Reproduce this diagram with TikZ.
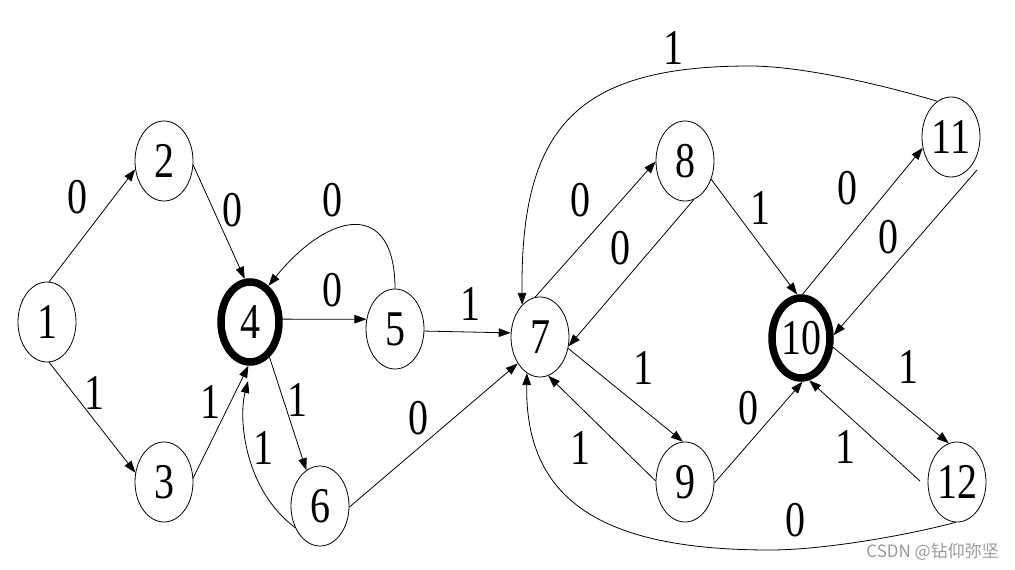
\documentclass[tikz,border=0pt]{standalone}
\usepackage{fontspec}
\usepackage{graphicx}
\usetikzlibrary{shapes.geometric,arrows.meta}
\setmainfont{Liberation Serif}
\newfontfamily\cjk{Noto Sans CJK SC}
\newcommand\dg[1]{\scalebox{0.8}[1]{#1}}
\begin{document}
\begin{tikzpicture}[x=1pt,y=-1pt,
  st/.style={ellipse,draw,line width=0.8pt,minimum width=58pt,minimum height=80pt,inner sep=0pt,font=\rmfamily\fontsize{50}{50}\selectfont},
  acc/.style={st,line width=7.5pt},
  lb/.style={inner sep=0pt,font=\rmfamily\fontsize{50}{50}\selectfont},
  ar/.style={line width=0.8pt,-{Triangle[length=12pt,width=8.5pt]}}]
\useasboundingbox (0,0) rectangle (1015,570);
% states
\node[st]  (n1)  at (47,322)  {\dg{1}};
\node[st]  (n2)  at (164,161) {\dg{2}};
\node[st]  (n3)  at (164,482) {\dg{3}};
\node[acc] (n4)  at (250,322) {\dg{4}};
\node[st]  (n5)  at (395,329) {\dg{5}};
\node[st]  (n6)  at (320,506) {\dg{6}};
\node[st]  (n7)  at (540,337) {\dg{7}};
\node[st]  (n8)  at (685,161) {\dg{8}};
\node[st]  (n9)  at (685,482) {\dg{9}};
\node[acc] (n10) at (801,338) {\dg{10}};
\node[st]  (n11) at (951,137) {\dg{11}};
\node[st]  (n12) at (957,482) {\dg{12}};
\coordinate (c4b) at (248,381);
\coordinate (c11) at (977,170);
\coordinate (c12) at (920,481);
% transitions
\draw[ar] (n1.87) -- (n2.196);
\draw[ar] (n1.273) -- (n3.162);
\draw[ar] (n2.352) -- (n4.97);
\draw[ar] (n3.8) -- (n4.268);
\draw[ar] (n4.5) -- (n5.161);
\draw[ar] (n5.90) .. controls (395,200) and (330,210) .. (n4.63);
\draw[ar] (n4.299) -- (n6.111);
\draw[ar] (n6.221) .. controls (245,490) and (238,420) .. (c4b);
\draw[ar] (n5.356) -- (n7.172);
\draw[ar] (n6.358) -- (n7.230);
\draw[ar] (n7.97) -- (n8.181);
\draw[ar] (n8.283) -- (n7.342);
\draw[ar] (n8.325) -- (n10.95);
\draw[ar] (n11.111) .. controls (880,84) and (800,66) .. (750,66) .. controls (578,66) and (520,126) .. (n7.119);
\draw[ar] (n10.88) -- (n11.201);
\draw[ar] (c11) -- (n10.5);
\draw[ar] (n7.338) -- (n9.93);
\draw[ar] (n9.178) -- (n7.282);
\draw[ar] (n12.268) .. controls (900,537) and (820,550) .. (770,550) .. controls (598,550) and (525,498) .. (n7.250);
\draw[ar] (n9.358) -- (n10.272);
\draw[ar] (n10.344) -- (n12.102);
\draw[ar] (c12) -- (n10.281);
% labels
\node[lb] (l12)  at (77,197)  {\dg{0}};
\node[lb] (l13)  at (94,393)  {\dg{1}};
\node[lb] (l24)  at (232,210) {\dg{0}};
\node[lb] (l34)  at (210,402) {\dg{1}};
\node[lb] (l54)  at (332,200) {\dg{0}};
\node[lb] (l45)  at (332,290) {\dg{0}};
\node[lb] (l46)  at (297,400) {\dg{1}};
\node[lb] (l64)  at (263,448) {\dg{1}};
\node[lb] (l67)  at (418,418) {\dg{0}};
\node[lb] (l57)  at (470,304) {\dg{1}};
\node[lb] (l78)  at (580,200) {\dg{0}};
\node[lb] (l87)  at (620,248) {\dg{0}};
\node[lb] (l810) at (760,208) {\dg{1}};
\node[lb] (l117) at (673,48)  {\dg{1}};
\node[lb] (l1011) at (847,188) {\dg{0}};
\node[lb] (l1110) at (888,237) {\dg{0}};
\node[lb] (l79)  at (643,368) {\dg{1}};
\node[lb] (l97)  at (580,448) {\dg{1}};
\node[lb] (l910) at (748,408) {\dg{0}};
\node[lb] (l1012) at (908,367) {\dg{1}};
\node[lb] (l1210) at (845,447) {\dg{1}};
\node[lb] (l127) at (795,520) {\dg{0}};
\node[anchor=east,inner sep=0pt,text=black!40,font=\cjk\fontsize{17}{17}\selectfont] (wm) at (999,552) {CSDN @钻仰弥坚};
\end{tikzpicture}
\end{document}
